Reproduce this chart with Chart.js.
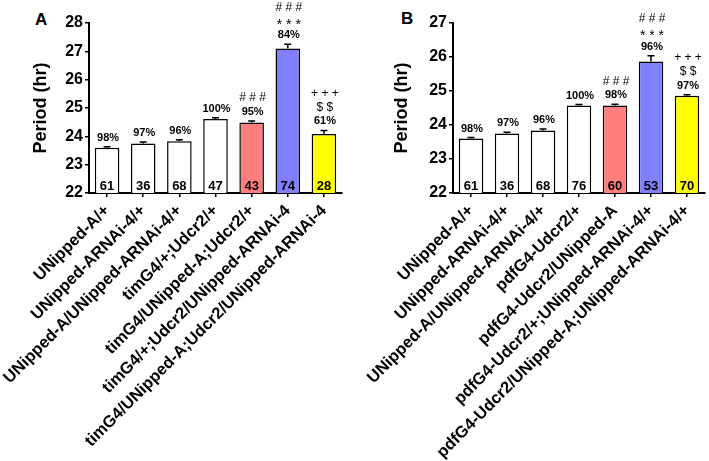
<!DOCTYPE html>
<html>
<head>
<meta charset="utf-8">
<script src="https://cdn.jsdelivr.net/npm/chart.js@4.4.1/dist/chart.umd.min.js"></script>
<style>
  body { margin: 0; background: #fff; width: 709px; height: 461px; position: relative; overflow: hidden; font-family: "Liberation Sans", Arial, sans-serif; }
  .panel { position: absolute; top: 0; }
  .letter { position: absolute; font-weight: bold; font-size: 17px; color: #000; }
</style>
</head>
<body>
<div class="letter" style="left:35px; top:10px;">A</div>
<div class="letter" style="left:401px; top:9px;">B</div>
<canvas id="chartA" class="panel" style="left:0px" width="355" height="461"></canvas>
<canvas id="chartB" class="panel" style="left:355px" width="354" height="461"></canvas>
<script>
// Panel A data
const labelsA = ['UNipped-A/+', 'UNipped-ARNAi-4/+', 'UNipped-A/UNipped-ARNAi-4/+', 'timG4/+;Udcr2/+',
    'timG4/UNipped-A;Udcr2/+', 'timG4/+;Udcr2/UNipped-ARNAi-4', 'timG4/UNipped-A;Udcr2/UNipped-ARNAi-4'];
const periodA = [23.6, 23.75, 23.83, 24.61, 24.49, 27.1, 24.08];
const semA = [0.03, 0.05, 0.05, 0.05, 0.05, 0.15, 0.13];
const countA = [61, 36, 68, 47, 43, 74, 28];
const rhythmicA = [98, 97, 96, 100, 95, 84, 61];
const sigA = [[], [], [], [], ['###'], ['***', '###'], ['$$', '+++']];
const ticksA = [22, 23, 24, 25, 26, 27, 28];

// Panel B data
const labelsB = ['UNipped-A/+', 'UNipped-ARNAi-4/+', 'UNipped-A/UNipped-ARNAi-4/+', 'pdfG4-Udcr2/+',
    'pdfG4-Udcr2/UNipped-A', 'pdfG4-Udcr2/+;UNipped-ARNAi-4/+', 'pdfG4-Udcr2/UNipped-A;UNipped-ARNAi-4/+'];
const periodB = [23.6, 23.75, 23.84, 24.57, 24.57, 25.87, 24.86];
const semB = [0.03, 0.04, 0.04, 0.03, 0.04, 0.17, 0.03];
const countB = [61, 36, 68, 76, 60, 53, 70];
const rhythmicB = [98, 97, 96, 100, 98, 96, 97];
const sigB = [[], [], [], [], ['###'], ['***', '###'], ['$$', '+++']];
const ticksB = [22, 23, 24, 25, 26, 27];

const barColors = ['#ffffff', '#ffffff', '#ffffff', '#ffffff', '#ff7f7f', '#8080ff', '#ffff00'];
const FONT = '"Liberation Sans", Arial, sans-serif';

// error bars, n inside bars, % rhythmic and significance marks above
const annotate = {
    id: 'annotate',
    afterDatasetsDraw(chart) {
        const ctx = chart.ctx;
        const y = chart.scales.y;
        const extra = chart.options.plugins.annotate;
        const bars = chart.getDatasetMeta(0).data;
        ctx.save();
        ctx.strokeStyle = '#000';
        ctx.fillStyle = '#000';
        ctx.lineWidth = 1.5;
        ctx.textAlign = 'center';
        bars.forEach((bar, i) => {
            const val = chart.data.datasets[0].data[i];
            const top = y.getPixelForValue(val + extra.sem[i]);
            ctx.beginPath();
            ctx.moveTo(bar.x, bar.y);
            ctx.lineTo(bar.x, top);
            ctx.moveTo(bar.x - 3.5, top);
            ctx.lineTo(bar.x + 3.5, top);
            ctx.stroke();

            ctx.font = 'bold 13px ' + FONT;
            ctx.textBaseline = 'alphabetic';
            ctx.fillText(String(extra.count[i]), bar.x, chart.chartArea.bottom - 3);

            ctx.font = 'bold 11px ' + FONT;
            ctx.textBaseline = 'middle';
            ctx.fillText(extra.pct[i] + '%', bar.x + 1, top - 9);

            extra.sig[i].forEach((s, k) => {
                const star = s === '***';
                ctx.font = (star ? '14px ' : '12px ') + FONT;
                ctx.fillText(s.split('').join(' '), bar.x + 1, top - 23 - k * 14 + (star ? 4 : 0));
            });
        });
        ctx.restore();
    }
};

function makeChart(id, labels, values, yTicks, extra, pad, yWidth) {
    return new Chart(document.getElementById(id), {
        type: 'bar',
        data: {
            labels: labels,
            datasets: [{
                data: values,
                backgroundColor: barColors,
                borderColor: '#000',
                borderWidth: 1.5,
                borderSkipped: false,
                categoryPercentage: 1,
                barPercentage: 0.68
            }]
        },
        options: {
            responsive: false,
            animation: false,
            events: [],
            layout: { padding: pad },
            plugins: {
                legend: { display: false },
                tooltip: { enabled: false },
                annotate: extra
            },
            scales: {
                x: {
                    grid: { drawOnChartArea: false, offset: false, color: '#000', lineWidth: 1.5, tickLength: 4 },
                    border: { color: '#000', width: 2 },
                    ticks: {
                        autoSkip: false, minRotation: 45, maxRotation: 45, padding: 4, color: '#000',
                        font: { family: FONT, size: 16.5, weight: 'bold' }
                    },
                    afterFit: s => { s.height = 461 - 193 - pad.bottom; s.paddingLeft = 0; s.paddingRight = 0; }
                },
                y: {
                    min: yTicks[0],
                    max: yTicks[yTicks.length - 1],
                    afterBuildTicks: s => { s.ticks = yTicks.map(v => ({ value: v })); },
                    grid: { drawOnChartArea: false, color: '#000', lineWidth: 1.5, tickLength: 4 },
                    border: { color: '#000', width: 2 },
                    ticks: { padding: 2, color: '#000', font: { family: FONT, size: 16, weight: 'bold' } },
                    title: {
                        display: true, text: 'Period (hr)', color: '#000', padding: { top: 4, bottom: 0 },
                        font: { family: FONT, size: 18, weight: 'bold' }
                    },
                    afterFit: s => { s.width = yWidth; }
                }
            }
        },
        plugins: [annotate]
    });
}

makeChart('chartA', labelsA, periodA, ticksA,
    { sem: semA, count: countA, pct: rhythmicA, sig: sigA },
    { top: 23, right: 13, left: 26, bottom: 0 }, 63);
makeChart('chartB', labelsB, periodB, ticksB,
    { sem: semB, count: countB, pct: rhythmicB, sig: sigB },
    { top: 23, right: 4, left: 32, bottom: 0 }, 66);
</script>
</body>
</html>
